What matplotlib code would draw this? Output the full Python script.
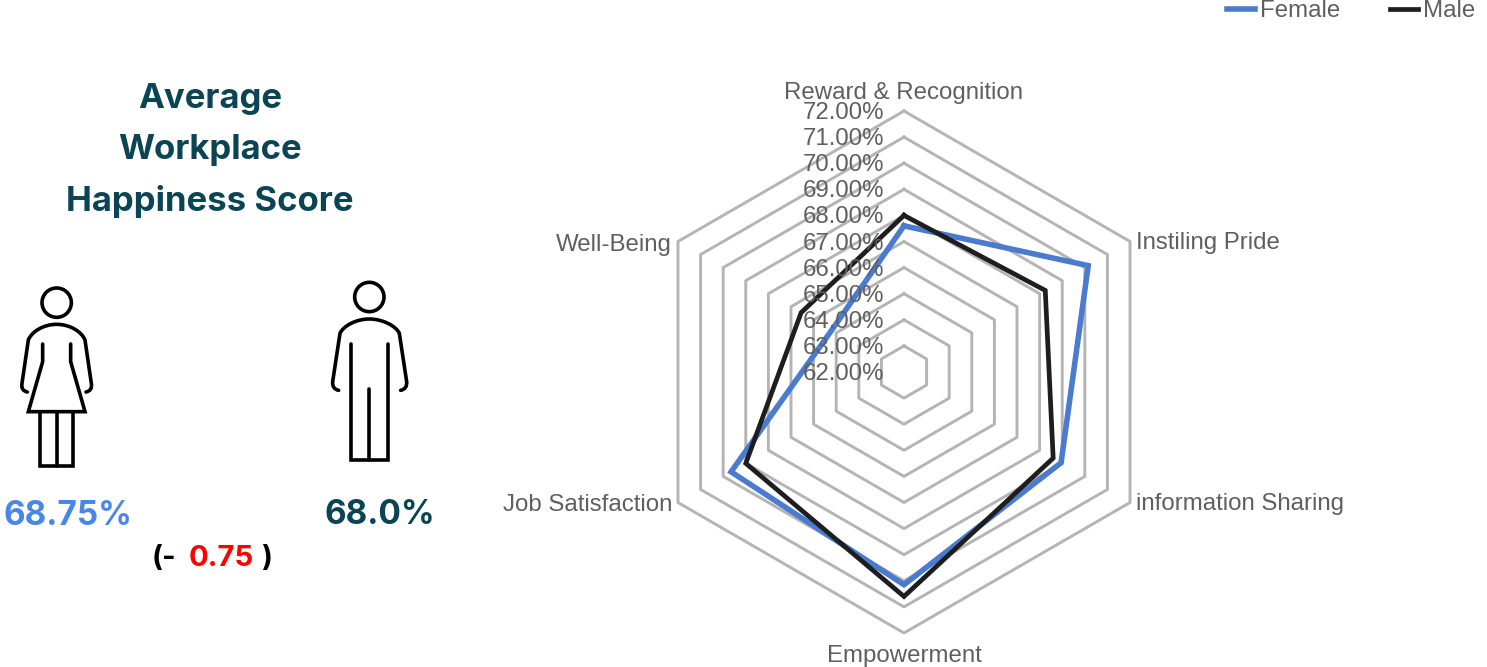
import numpy as np
import matplotlib
matplotlib.use('Agg')
import matplotlib.pyplot as plt
from matplotlib.patches import Circle, PathPatch
from matplotlib.path import Path

# Radar values (%)
categories = ['Reward & Recognition', 'Instiling Pride', 'information Sharing',
              'Empowerment', 'Job Satisfaction', 'Well-Being']
female = [67.6, 70.15, 68.95, 70.15, 69.65, 65.2]
male = [68.0, 68.25, 68.6, 70.6, 69.0, 66.55]
ring_levels = [63, 64, 65, 66, 67, 68, 69, 70, 71, 72]
tick_levels = [62, 63, 64, 65, 66, 67, 68, 69, 70, 71, 72]

title_lines = ['Average', 'Workplace', 'Happiness Score']
female_score = '68.75%'
male_score = '68.0%'
score_gap = '0.75'

W, H = 1487, 667
GREY = '#5f5f5f'
TEAL = '#0b4452'
HEAD_FONT = 'Inter'

fig = plt.figure(figsize=(W / 100, H / 100), dpi=100)

# Overlay in pixel coordinates for the left side infographic
bg = fig.add_axes([0, 0, 1, 1])
bg.set_xlim(0, W)
bg.set_ylim(H, 0)
bg.axis('off')

# Radar: centre (904, 372), outer radius 261 px, r=62 sits at the centre
R = 261
ax = fig.add_axes([(904 - R) / W, (H - 372 - R) / H, 2 * R / W, 2 * R / H], projection='polar')
ax.set_theta_zero_location('N')
ax.set_theta_direction(-1)
ax.set_rlim(62, 72)
ax.axis('off')
ax.patch.set_alpha(0)

theta = np.arange(len(categories)) * 2 * np.pi / len(categories)
theta_closed = np.append(theta, theta[0])

for level in ring_levels:
    ax.plot(theta_closed, [level] * len(theta_closed), color='#b4b4b4', lw=2.1, clip_on=False, zorder=1)


def straight_edges(values):
    # polar axes curve long segments, so sample each edge along its chord
    xs = np.array(values + values[:1]) - 62
    px = xs * np.sin(theta_closed)
    py = xs * np.cos(theta_closed)
    out_t, out_r = [], []
    for i in range(len(values)):
        for f in np.linspace(0, 1, 20):
            x = px[i] + (px[i + 1] - px[i]) * f
            y = py[i] + (py[i + 1] - py[i]) * f
            out_t.append(np.arctan2(x, y))
            out_r.append(np.hypot(x, y) + 62)
    return out_t, out_r


t, r = straight_edges(female)
ax.plot(t, r, color='#4a7bcf', lw=4.0, label='Female', zorder=3, solid_joinstyle='miter')
t, r = straight_edges(male)
ax.plot(t, r, color='#1e1e1e', lw=3.4, label='Male', zorder=4, solid_joinstyle='miter')

for level in tick_levels:
    ax.annotate(f'{level:.2f}%', (0, level), xytext=(-20, -2), textcoords='offset pixels',
                ha='right', va='center', fontsize=17.3, color=GREY, family='Liberation Sans',
                annotation_clip=False, zorder=5)

label_offsets = [(0, 18, 'center'), (6, -2, 'left'), (6, -2, 'left'),
                 (0, -23, 'center'), (-6, -2, 'right'), (-6, -3, 'right')]
for name, th, (dx, dy, ha) in zip(categories, theta, label_offsets):
    ax.annotate(name, (th, 72), xytext=(dx, dy), textcoords='offset pixels', ha=ha, va='center',
                fontsize=17.3, color=GREY, family='Liberation Sans', annotation_clip=False)

fig.legend(*ax.get_legend_handles_labels(), loc='upper right', bbox_to_anchor=(1.0, 1.018), ncol=2,
           frameon=False, handlelength=1.17, handletextpad=0.2, columnspacing=2.08, borderaxespad=0.1,
           prop={'family': 'Liberation Sans', 'size': 17.3}, labelcolor=GREY)

# Left side texts
for line, y in zip(title_lines, [99, 150, 202]):
    bg.text(210, y, line, ha='center', va='center', fontsize=25, fontweight='bold', color=TEAL, family=HEAD_FONT)

bg.text(68, 516, female_score, ha='center', va='center', fontsize=24, fontweight='bold', color='#4a86e8', family=HEAD_FONT)
bg.text(380, 515, male_score, ha='center', va='center', fontsize=24, fontweight='bold', color=TEAL, family=HEAD_FONT)
bg.text(152, 558, '(-', ha='left', va='center', fontsize=21, fontweight='bold', color='black', family=HEAD_FONT)
bg.text(189, 559, score_gap, ha='left', va='center', fontsize=21, fontweight='bold', color='#ff0000', family=HEAD_FONT)
bg.text(272, 558, ')', ha='right', va='center', fontsize=21, fontweight='bold', color='black', family=HEAD_FONT)

ICON_LW = 2.6


def to_px(points):
    pts = np.array(points, dtype=float)
    return np.column_stack([pts[:, 0] / 3, pts[:, 1] / 3 + 270])


def icon_line(points):
    pts = to_px(points)
    bg.plot(pts[:, 0], pts[:, 1], color='black', lw=ICON_LW, solid_joinstyle='miter', solid_capstyle='round')


def icon_curve(points, codes):
    bg.add_patch(PathPatch(Path(to_px(points), codes), fill=False, ec='black', lw=ICON_LW, capstyle='round'))


def icon_head(x, y):
    bg.add_patch(Circle((x / 3, y / 3 + 270), 44 / 3, fill=False, ec='black', lw=ICON_LW))


def body_codes():
    # hand hook, arm, shoulder arc, arm, hand hook
    return [Path.MOVETO, Path.CURVE3, Path.CURVE3, Path.LINETO, Path.CURVE4, Path.CURVE4, Path.CURVE4,
            Path.CURVE4, Path.CURVE4, Path.CURVE4, Path.LINETO, Path.CURVE3, Path.CURVE3]


# woman
icon_head(170, 98)
icon_curve([(82, 366), (62, 362), (66, 340), (85, 210), (95, 185), (130, 163), (170, 163),
            (210, 163), (245, 185), (255, 210), (274, 340), (278, 362), (258, 366)], body_codes())
icon_line([(128, 222), (128, 275), (85, 425), (255, 425), (212, 275), (212, 222)])
icon_line([(120, 425), (120, 588), (220, 588), (220, 425)])
icon_line([(170, 425), (170, 588)])

# man
icon_head(1108, 81)
icon_curve([(1016, 361), (996, 357), (998, 335), (1020, 190), (1030, 168), (1068, 147), (1108, 147),
            (1148, 147), (1188, 168), (1198, 190), (1220, 335), (1222, 357), (1202, 361)], body_codes())
icon_line([(1054, 222), (1054, 570), (1163, 570), (1163, 222)])
icon_line([(1108, 358), (1108, 570)])

plt.savefig('out.png', dpi=100)
